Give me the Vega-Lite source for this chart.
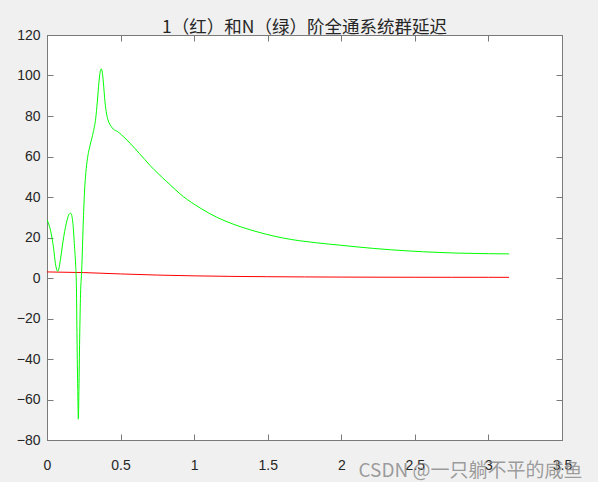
{
  "$schema": "https://vega.github.io/schema/vega-lite/v6.json",
  "width": 515,
  "height": 405,
  "autosize": {"type": "none"},
  "padding": {"left": 47, "top": 35, "right": 36, "bottom": 42},
  "background": "#f0f0f0",
  "view": {"fill": "#ffffff", "stroke": "#7a7a7a", "strokeWidth": 1},
  "title": {
    "text": "1（红）和N（绿）阶全通系统群延迟",
    "font": "Noto Sans CJK SC",
    "fontSize": 17.5,
    "fontWeight": "normal",
    "color": "#262626",
    "offset": -8
  },
  "config": {
    "axis": {
      "labelFont": "Liberation Sans",
      "labelFontSize": 14,
      "labelColor": "#262626",
      "domainColor": "#7a7a7a",
      "tickColor": "#7a7a7a",
      "tickSize": -6,
      "grid": false
    }
  },
  "datasets": {
    "curves": [
      {"series": "N", "x": 0, "y": 28.7},
      {"series": "N", "x": 0.023, "y": 23.8},
      {"series": "N", "x": 0.046, "y": 14},
      {"series": "N", "x": 0.057, "y": 7.2},
      {"series": "N", "x": 0.065, "y": 4.4},
      {"series": "N", "x": 0.073, "y": 3.3},
      {"series": "N", "x": 0.082, "y": 5},
      {"series": "N", "x": 0.091, "y": 9},
      {"series": "N", "x": 0.114, "y": 20.5},
      {"series": "N", "x": 0.137, "y": 28.7},
      {"series": "N", "x": 0.15, "y": 31.5},
      {"series": "N", "x": 0.16, "y": 32},
      {"series": "N", "x": 0.168, "y": 31},
      {"series": "N", "x": 0.176, "y": 27},
      {"series": "N", "x": 0.187, "y": 15.5},
      {"series": "N", "x": 0.194, "y": 7.5},
      {"series": "N", "x": 0.2, "y": -5},
      {"series": "N", "x": 0.204, "y": -30},
      {"series": "N", "x": 0.209, "y": -55},
      {"series": "N", "x": 0.213, "y": -69.7},
      {"series": "N", "x": 0.217, "y": -55},
      {"series": "N", "x": 0.222, "y": -30},
      {"series": "N", "x": 0.228, "y": -8},
      {"series": "N", "x": 0.236, "y": 4},
      {"series": "N", "x": 0.247, "y": 28.7},
      {"series": "N", "x": 0.256, "y": 44},
      {"series": "N", "x": 0.264, "y": 52},
      {"series": "N", "x": 0.275, "y": 59},
      {"series": "N", "x": 0.293, "y": 65.6},
      {"series": "N", "x": 0.315, "y": 72.2},
      {"series": "N", "x": 0.331, "y": 78.8},
      {"series": "N", "x": 0.342, "y": 87},
      {"series": "N", "x": 0.353, "y": 96.7},
      {"series": "N", "x": 0.362, "y": 102},
      {"series": "N", "x": 0.369, "y": 103.3},
      {"series": "N", "x": 0.376, "y": 101.5},
      {"series": "N", "x": 0.383, "y": 96.7},
      {"series": "N", "x": 0.394, "y": 87},
      {"series": "N", "x": 0.405, "y": 81},
      {"series": "N", "x": 0.417, "y": 77.5},
      {"series": "N", "x": 0.435, "y": 75},
      {"series": "N", "x": 0.451, "y": 73.5},
      {"series": "N", "x": 0.48, "y": 72.3},
      {"series": "N", "x": 0.508, "y": 70.6},
      {"series": "N", "x": 0.565, "y": 66.5},
      {"series": "N", "x": 0.628, "y": 61.5},
      {"series": "N", "x": 0.7, "y": 55.6},
      {"series": "N", "x": 0.812, "y": 47.7},
      {"series": "N", "x": 0.927, "y": 40.2},
      {"series": "N", "x": 1.04, "y": 34.6},
      {"series": "N", "x": 1.154, "y": 30},
      {"series": "N", "x": 1.265, "y": 26.6},
      {"series": "N", "x": 1.381, "y": 23.8},
      {"series": "N", "x": 1.49, "y": 21.6},
      {"series": "N", "x": 1.607, "y": 19.7},
      {"series": "N", "x": 1.83, "y": 17.4},
      {"series": "N", "x": 1.993, "y": 16.2},
      {"series": "N", "x": 2.22, "y": 14.6},
      {"series": "N", "x": 2.447, "y": 13.4},
      {"series": "N", "x": 2.67, "y": 12.6},
      {"series": "N", "x": 2.787, "y": 12.3},
      {"series": "N", "x": 3.0, "y": 12},
      {"series": "N", "x": 3.14, "y": 11.9},
      {"series": "1", "x": 0, "y": 3},
      {"series": "1", "x": 0.25, "y": 2.67},
      {"series": "1", "x": 0.5, "y": 2.01},
      {"series": "1", "x": 0.75, "y": 1.45},
      {"series": "1", "x": 1.0, "y": 1.06},
      {"series": "1", "x": 1.25, "y": 0.8},
      {"series": "1", "x": 1.5, "y": 0.64},
      {"series": "1", "x": 1.75, "y": 0.53},
      {"series": "1", "x": 2.0, "y": 0.45},
      {"series": "1", "x": 2.25, "y": 0.4},
      {"series": "1", "x": 2.5, "y": 0.37},
      {"series": "1", "x": 2.75, "y": 0.35},
      {"series": "1", "x": 3.0, "y": 0.34},
      {"series": "1", "x": 3.14, "y": 0.33}
    ]
  },
  "data": {"name": "curves"},
  "resolve": {"axis": {"x": "independent", "y": "independent"}},
  "layer": [
    {
      "transform": [{"filter": "datum.series === '1'"}],
      "mark": {"type": "line", "color": "#ff0000", "strokeWidth": 1, "clip": true},
      "encoding": {
        "x": {
          "field": "x", "type": "quantitative",
          "scale": {"domain": [0, 3.5], "nice": false, "zero": false},
          "axis": {
            "orient": "bottom", "values": [0, 0.5, 1, 1.5, 2, 2.5, 3, 3.5],
            "format": "~r",
            "labelPadding": 24, "labelFlush": false,
            "title": "CSDN @一只躺不平的咸鱼",
            "titleFont": "Noto Sans CJK SC", "titleFontSize": 19, "titleFontWeight": "normal",
            "titleColor": "#8c8c8c", "titleOpacity": 0.85,
            "titleAlign": "right", "titleBaseline": "bottom",
            "titleX": 535, "titleY": 40
          }
        },
        "y": {
          "field": "y", "type": "quantitative",
          "scale": {"domain": [-80, 120], "nice": false, "zero": false},
          "axis": {
            "orient": "left", "values": [-80, -60, -40, -20, 0, 20, 40, 60, 80, 100, 120],
            "format": "~r",
            "labelPadding": 13, "labelFlush": false, "title": null
          }
        }
      }
    },
    {
      "transform": [{"filter": "datum.series === 'N'"}],
      "mark": {"type": "line", "color": "#00ff00", "strokeWidth": 1, "interpolate": "monotone", "clip": true},
      "encoding": {
        "x": {
          "field": "x", "type": "quantitative",
          "axis": {"orient": "top", "values": [0, 0.5, 1, 1.5, 2, 2.5, 3, 3.5], "labels": false, "title": null}
        },
        "y": {
          "field": "y", "type": "quantitative",
          "axis": {"orient": "right", "values": [-80, -60, -40, -20, 0, 20, 40, 60, 80, 100, 120], "labels": false, "title": null}
        }
      }
    }
  ]
}
